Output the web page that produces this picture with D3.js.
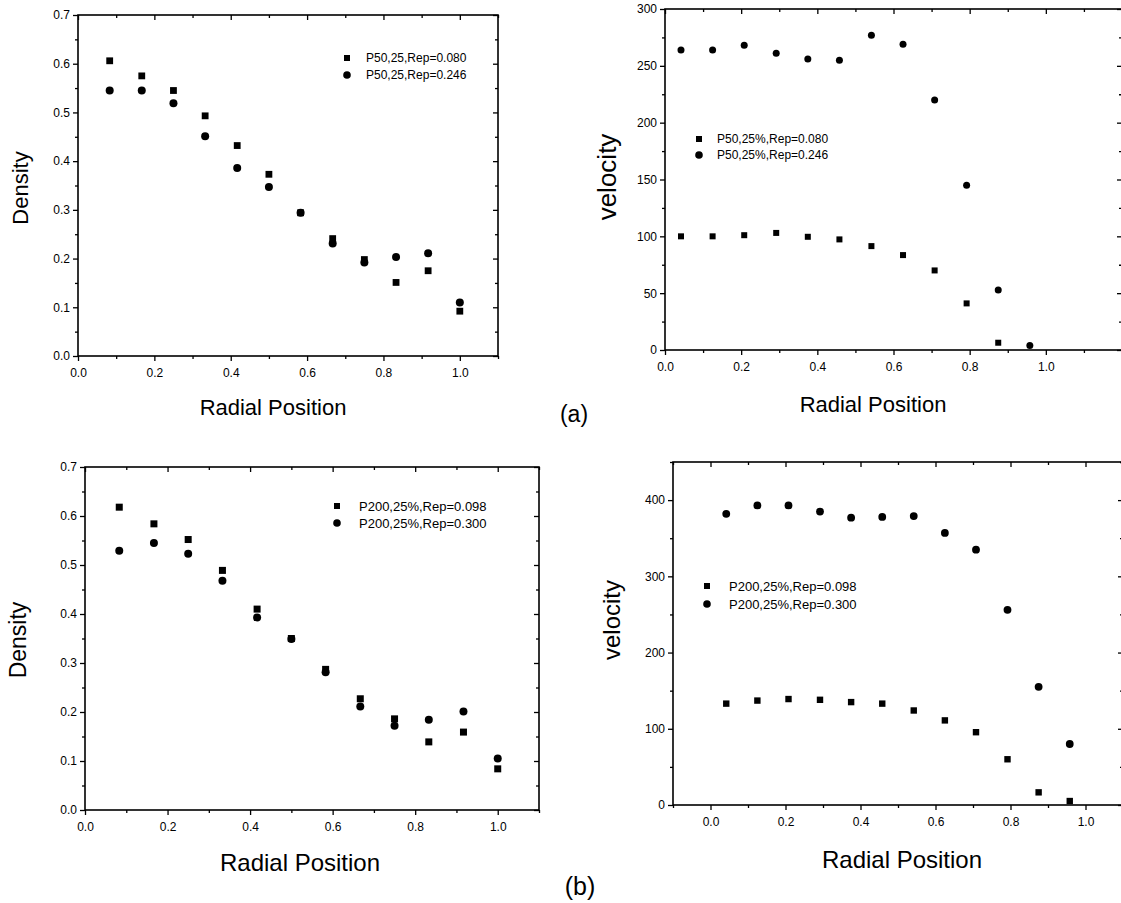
<!DOCTYPE html>
<html>
<head>
<meta charset="utf-8">
<script src="https://cdn.jsdelivr.net/npm/d3@7"></script>
<style>
  body { margin: 0; background: #fff; }
  svg { display: block; font-family: Arial, "Liberation Sans", sans-serif; }
  .tick text { font-size: 12px; fill: #000; }
  .tick line { stroke: #000; stroke-width: 1.3; }
</style>
</head>
<body>
<svg id="chart" width="1121" height="903"></svg>
<script>
// radial positions
const densityX = [0.083, 0.167, 0.25, 0.333, 0.417, 0.5, 0.583, 0.667, 0.75, 0.833, 0.917, 1.0];
const velocityX = [0.042, 0.125, 0.208, 0.292, 0.375, 0.458, 0.542, 0.625, 0.708, 0.792, 0.875, 0.958];

// (a) P50
const densityP50Low = [0.606, 0.575, 0.545, 0.493, 0.432, 0.373, 0.294, 0.241, 0.198, 0.151, 0.175, 0.092];
const densityP50High = [0.545, 0.545, 0.519, 0.451, 0.386, 0.347, 0.294, 0.231, 0.192, 0.203, 0.211, 0.110];
const velocityP50Low = [100, 100, 101, 103, 99.6, 97.3, 91.4, 83.5, 70, 41, 6.4];
const velocityP50High = [264, 264, 268, 261, 256, 255, 277, 269, 220, 145, 52.7, 4];

// (b) P200
const densityP200Low = [0.618, 0.584, 0.552, 0.489, 0.410, 0.350, 0.287, 0.227, 0.186, 0.139, 0.159, 0.084];
const densityP200High = [0.529, 0.545, 0.523, 0.468, 0.393, 0.349, 0.281, 0.211, 0.172, 0.184, 0.201, 0.105];
const velocityP200Low = [133, 137, 139, 138, 135, 133, 124, 111, 95.5, 60, 16.6, 5.2];
const velocityP200High = [382, 393, 393, 385, 377, 378, 379, 357, 335, 256, 155, 80];

const legendP50a = ["P50,25,Rep=0.080", "P50,25,Rep=0.246"];
const legendP50b = ["P50,25%,Rep=0.080", "P50,25%,Rep=0.246"];
const legendP200 = ["P200,25%,Rep=0.098", "P200,25%,Rep=0.300"];

const densityTicks = [0, 0.1, 0.2, 0.3, 0.4, 0.5, 0.6, 0.7];
const densityMinor = [0.05, 0.15, 0.25, 0.35, 0.45, 0.55, 0.65];
const radialTicks = [0, 0.2, 0.4, 0.6, 0.8, 1.0];
const radialMinor = [0.1, 0.3, 0.5, 0.7, 0.9, 1.1];
const radialMinorB = [-0.1, 0.1, 0.3, 0.5, 0.7, 0.9, 1.1];
const velTicksA = [0, 50, 100, 150, 200, 250, 300];
const velMinorA = [25, 75, 125, 175, 225, 275];
const velTicksB = [0, 100, 200, 300, 400];
const velMinorB = [50, 150, 250, 350, 450];

const panels = [
  { box: [78, 498, 15, 356], xDom: [0, 1.1], yDom: [0, 0.7],
    xTicks: radialTicks, xMinor: radialMinor, yTicks: densityTicks, yMinor: densityMinor, yFmt: ".1f",
    xs: densityX, low: densityP50Low, high: densityP50High, sq: 6.8, r: 4,
    legend: legendP50a, leg: [347, 366, 58, 75, 12],
    yLabel: "Density", yLab: [20, 188, 22], xLab: [273, 407, 22] },
  { box: [665, 1122, 9, 350], xDom: [0, 1.2], yDom: [0, 300],
    xTicks: radialTicks, xMinor: radialMinor, yTicks: velTicksA, yMinor: velMinorA, yFmt: "d",
    xs: velocityX, low: velocityP50Low, high: velocityP50High, sq: 6, r: 3.5,
    legend: legendP50b, leg: [699, 717, 139, 155, 12],
    yLabel: "velocity", yLab: [607, 177, 26], xLab: [873, 404, 22] },
  { box: [85, 539, 467, 810], xDom: [0, 1.1], yDom: [0, 0.7],
    xTicks: radialTicks, xMinor: radialMinor, yTicks: densityTicks, yMinor: densityMinor, yFmt: ".1f",
    xs: densityX, low: densityP200Low, high: densityP200High, sq: 7, r: 4,
    legend: legendP200, leg: [337, 359, 506, 523, 13],
    yLabel: "Density", yLab: [18, 640, 23], xLab: [300, 863, 24] },
  { box: [673, 1123, 462, 805], xDom: [-0.1, 1.1], yDom: [0, 450],
    xTicks: radialTicks, xMinor: radialMinorB, yTicks: velTicksB, yMinor: velMinorB, yFmt: "d",
    xs: velocityX, low: velocityP200Low, high: velocityP200High, sq: 6.4, r: 3.9,
    legend: legendP200, leg: [707, 729, 586, 604, 13],
    yLabel: "velocity", yLab: [612, 620, 24], xLab: [902, 860, 24] }
];

const svg = d3.select("#chart");

panels.forEach((p) => {
  const [left, right, top, bottom] = p.box;
  const x = d3.scaleLinear().domain(p.xDom).range([left, right]);
  const y = d3.scaleLinear().domain(p.yDom).range([bottom, top]);
  const g = svg.append("g");

  // frame
  g.append("rect")
    .attr("x", left).attr("y", top)
    .attr("width", right - left).attr("height", bottom - top)
    .attr("fill", "none").attr("stroke", "#000").attr("stroke-width", 1.6);

  const put = (axis, tx, ty) => {
    const a = g.append("g").attr("transform", `translate(${tx},${ty})`).call(axis);
    a.select(".domain").remove();
    return a;
  };

  // bottom & left: outward ticks with labels
  put(d3.axisBottom(x).tickValues(p.xTicks).tickSize(5).tickPadding(7).tickFormat(d3.format(".1f")), 0, bottom);
  put(d3.axisBottom(x).tickValues(p.xMinor).tickSize(3).tickFormat(""), 0, bottom);
  put(d3.axisLeft(y).tickValues(p.yTicks).tickSize(5).tickPadding(3).tickFormat(d3.format(p.yFmt)), left, 0);
  put(d3.axisLeft(y).tickValues(p.yMinor).tickSize(3).tickFormat(""), left, 0);
  // top & right: inward ticks
  put(d3.axisTop(x).tickValues(p.xTicks).tickSize(-5).tickFormat(""), 0, top);
  put(d3.axisTop(x).tickValues(p.xMinor).tickSize(-3).tickFormat(""), 0, top);
  put(d3.axisRight(y).tickValues(p.yTicks).tickSize(-5).tickFormat(""), right, 0);
  put(d3.axisRight(y).tickValues(p.yMinor).tickSize(-3).tickFormat(""), right, 0);

  // squares series
  g.selectAll("rect.sq")
    .data(p.low)
    .join("rect")
    .attr("class", "sq")
    .attr("x", (d, i) => x(p.xs[i]) - p.sq / 2)
    .attr("y", (d) => y(d) - p.sq / 2)
    .attr("width", p.sq).attr("height", p.sq)
    .attr("fill", "#000");

  // circles series
  g.selectAll("circle.ci")
    .data(p.high)
    .join("circle")
    .attr("class", "ci")
    .attr("cx", (d, i) => x(p.xs[i]))
    .attr("cy", (d) => y(d))
    .attr("r", p.r)
    .attr("fill", "#000");

  // legend
  const [mx, tx, y1, y2, fs] = p.leg;
  g.append("rect").attr("x", mx - 3).attr("y", y1 - 3).attr("width", 6).attr("height", 6).attr("fill", "#000");
  g.append("circle").attr("cx", mx).attr("cy", y2).attr("r", 3.8).attr("fill", "#000");
  g.append("text").attr("x", tx).attr("y", y1).attr("dy", "0.35em")
    .attr("font-size", fs).text(p.legend[0]);
  g.append("text").attr("x", tx).attr("y", y2).attr("dy", "0.35em")
    .attr("font-size", fs).text(p.legend[1]);

  // axis titles
  g.append("text")
    .attr("transform", `translate(${p.yLab[0]},${p.yLab[1]}) rotate(-90)`)
    .attr("text-anchor", "middle").attr("dy", "0.35em")
    .attr("font-size", p.yLab[2])
    .text(p.yLabel);
  g.append("text")
    .attr("x", p.xLab[0]).attr("y", p.xLab[1])
    .attr("text-anchor", "middle").attr("dy", "0.35em")
    .attr("font-size", p.xLab[2])
    .text("Radial Position");
});

svg.append("text").attr("x", 574).attr("y", 414).attr("dy", "0.35em")
  .attr("text-anchor", "middle").attr("font-size", 23).text("(a)");
svg.append("text").attr("x", 580).attr("y", 886).attr("dy", "0.35em")
  .attr("text-anchor", "middle").attr("font-size", 25).text("(b)");
</script>
</body>
</html>
